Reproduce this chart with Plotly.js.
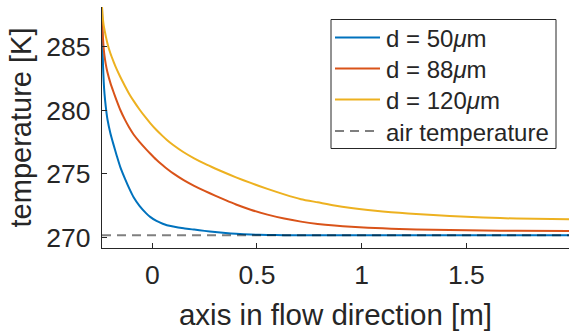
<!DOCTYPE html>
<html>
<head>
<meta charset="utf-8">
<script src="https://cdn.plot.ly/plotly-3.0.1.min.js"></script>
<style>
html,body{margin:0;padding:0;background:#fff;}
#chart{width:569px;height:335px;}
</style>
</head>
<body>
<div id="chart"></div>
<script>
// axis positions along flow direction [m]
const xPos = [-0.24, -0.238, -0.235, -0.232, -0.228, -0.222, -0.214, -0.2, -0.185, -0.17, -0.153, -0.13, -0.11, -0.089, -0.06, -0.03, -0.01, 0.02, 0.05, 0.07, 0.1, 0.15, 0.2, 0.25, 0.3, 0.35, 0.4, 0.47, 0.55, 0.63, 0.71, 0.79, 0.87, 0.95, 1.03, 1.1, 1.18, 1.26, 1.42, 1.58, 1.74, 1.99];
// temperatures [K]
const temp50  = [288.15, 285.3, 283.5, 282.3, 281.3, 280.3, 279.3, 278.2, 277.3, 276.45, 275.55, 274.6, 273.85, 273.15, 272.45, 271.9, 271.6, 271.28, 271.06, 270.95, 270.84, 270.7, 270.6, 270.5, 270.41, 270.33, 270.27, 270.21, 270.18, 270.16, 270.15, 270.15, 270.15, 270.15, 270.15, 270.15, 270.15, 270.15, 270.15, 270.15, 270.15, 270.15];
const temp88  = [288.15, 286.65, 285.6, 284.9, 284.3, 283.65, 283.0, 282.17, 281.45, 280.77, 280.05, 279.25, 278.65, 278.1, 277.5, 276.95, 276.6, 276.1, 275.67, 275.4, 275.03, 274.5, 274.05, 273.65, 273.28, 272.92, 272.58, 272.17, 271.78, 271.47, 271.23, 271.05, 270.92, 270.82, 270.75, 270.7, 270.65, 270.61, 270.56, 270.53, 270.51, 270.5];
const temp120 = [288.15, 287.6, 287.1, 286.7, 286.35, 285.85, 285.28, 284.5, 283.85, 283.25, 282.65, 281.9, 281.3, 280.75, 280.05, 279.4, 279.0, 278.45, 277.97, 277.67, 277.27, 276.7, 276.22, 275.8, 275.42, 275.06, 274.72, 274.28, 273.81, 273.38, 273.0, 272.75, 272.5, 272.3, 272.14, 272.03, 271.92, 271.83, 271.67, 271.55, 271.47, 271.42];
const airX = [-0.24, 1.99];
const airTemp = [270.15, 270.15];

const seriesNames = ['d = 50<i>μ</i>m', 'd = 88<i>μ</i>m', 'd = 120<i>μ</i>m', 'air temperature'];
const seriesColors = ['#0072BD', '#D95319', '#EDB120', 'rgba(0,0,0,0.5)'];
const xTicks = [0, 0.5, 1, 1.5];
const xTickText = ['0', '0.5', '1', '1.5'];
const yTicks = [270, 275, 280, 285];
const yTickText = ['270', '275', '280', '285'];

const fontFam = '"Liberation Sans", Arial, Helvetica, sans-serif';
const axColor = '#262626';
const W = 569, H = 335;
const M = {l: 102, r: 0, t: 7, b: 87};
const pw = W - M.l - M.r, ph = H - M.t - M.b;
const px2x = p => (p - M.l) / pw;
const py2y = p => (H - M.b - p) / ph;
const DASH = '9px,6px';

const curveLine = (c) => ({color: c, width: 2, shape: 'spline', smoothing: 0.6});
const traces = [
  {x: xPos, y: temp50, name: seriesNames[0], mode: 'lines', line: curveLine(seriesColors[0])},
  {x: xPos, y: temp88, name: seriesNames[1], mode: 'lines', line: curveLine(seriesColors[1])},
  {x: xPos, y: temp120, name: seriesNames[2], mode: 'lines', line: curveLine(seriesColors[2])},
  {x: airX, y: airTemp, name: seriesNames[3], mode: 'lines', line: {color: seriesColors[3], width: 2, dash: DASH}}
];

// legend drawn in paper space
const legRows = [37.5, 68.5, 99.5, 131];
const shapes = [{
  type: 'rect', xref: 'paper', yref: 'paper',
  x0: px2x(331), x1: px2x(556), y0: py2y(19.5), y1: py2y(148.5),
  line: {color: axColor, width: 1}, fillcolor: '#fff', layer: 'above'
}];
const annotations = [];
seriesNames.forEach((nm, i) => {
  shapes.push({
    type: 'line', xref: 'paper', yref: 'paper',
    x0: px2x(335), x1: px2x(380), y0: py2y(legRows[i]), y1: py2y(legRows[i]),
    line: {color: seriesColors[i], width: 2, dash: i === 3 ? DASH : 'solid'}, layer: 'above'
  });
  annotations.push({
    xref: 'paper', yref: 'paper', x: px2x(384), y: py2y(legRows[i] + 1),
    xanchor: 'left', yanchor: 'middle', showarrow: false, text: nm,
    font: {family: fontFam, size: 24, color: axColor}
  });
});

const layout = {
  width: W, height: H,
  margin: M,
  paper_bgcolor: '#fff', plot_bgcolor: '#fff',
  font: {family: fontFam, color: axColor, size: 26.5},
  showlegend: false,
  shapes: shapes,
  annotations: annotations,
  xaxis: {
    range: [-0.24, 1.99], tickvals: xTicks, ticktext: xTickText,
    showline: true, linecolor: axColor, linewidth: 1.2, mirror: false,
    ticks: 'inside', ticklen: 5, tickcolor: axColor, tickwidth: 1,
    ticklabelstandoff: 3,
    showgrid: false, zeroline: false,
    tickfont: {size: 26.5, color: axColor, family: fontFam},
    title: {text: 'axis in flow direction [m]', font: {size: 29.5, color: axColor, family: fontFam}, standoff: 15}
  },
  yaxis: {
    range: [269.15, 288.15], tickvals: yTicks, ticktext: yTickText,
    showline: true, linecolor: axColor, linewidth: 1.2, mirror: false,
    ticks: 'inside', ticklen: 5, tickcolor: axColor, tickwidth: 1,
    ticklabelstandoff: 5,
    showgrid: false, zeroline: false,
    tickfont: {size: 26.5, color: axColor, family: fontFam},
    title: {text: 'temperature [K]', font: {size: 29, color: axColor, family: fontFam}, standoff: 6}
  }
};

Plotly.newPlot('chart', traces, layout, {staticPlot: true, displayModeBar: false});
</script>
</body>
</html>
